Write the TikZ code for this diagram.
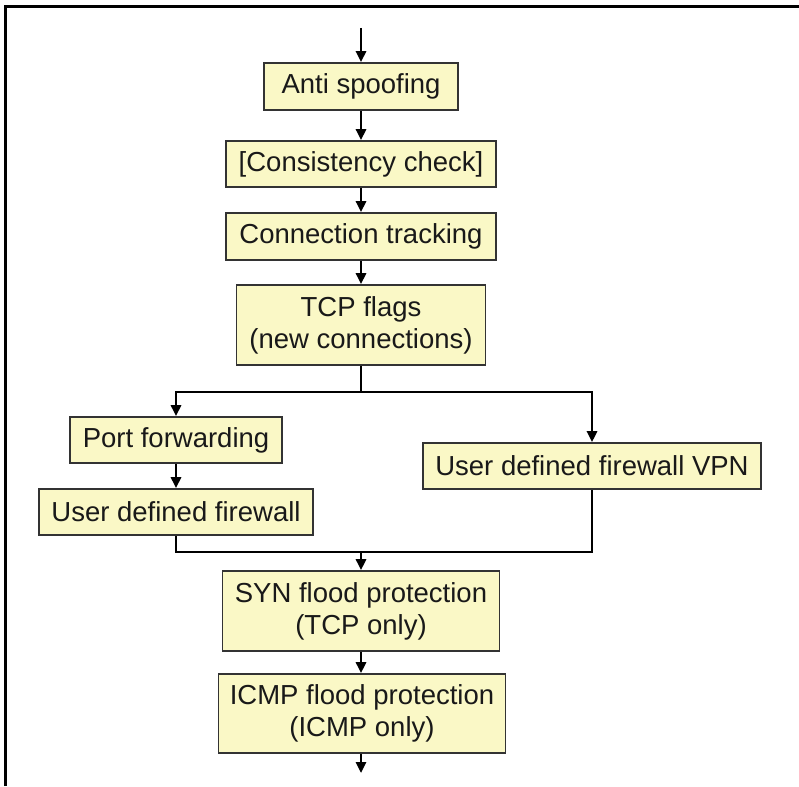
\documentclass[tikz,border=0pt]{standalone}
\usepackage{fontspec}
\setmainfont{Liberation Sans}
\usetikzlibrary{arrows.meta}
\definecolor{boxfill}{HTML}{FAF8C6}
\definecolor{boxline}{HTML}{333333}
\tikzset{
  stage/.style={draw=boxline, line width=1.6pt, fill=boxfill, inner sep=0pt,
    align=center, text=black!90, font=\fontsize{27.5}{32}\selectfont},
  flow/.style={line width=2.6pt, -{Triangle[length=11pt,width=10pt]}},
  link/.style={line width=2.6pt},
  frame/.style={line width=3pt}
}
\begin{document}
\begin{tikzpicture}[x=1pt,y=-1pt]
\useasboundingbox (0,0) rectangle (799,786);
\draw[frame] (5,786) -- (5,7) -- (799,7);
\node[stage, minimum width=194pt, minimum height=47pt] (anti) at (361,86.5) {Anti spoofing};
\node[stage, minimum width=270pt, minimum height=46pt] (cons) at (361,164) {[Consistency check]};
\node[stage, minimum width=270pt, minimum height=47pt] (conn) at (361,236.5) {Connection tracking};
\node[stage, minimum width=249pt, minimum height=80pt] (tcp) at (361,325) {TCP flags\\(new connections)};
\node[stage, minimum width=212pt, minimum height=46pt] (port) at (176,440) {Port forwarding};
\node[stage, minimum width=274pt, minimum height=46pt] (udf) at (176,512) {User defined firewall};
\node[stage, minimum width=338pt, minimum height=46pt] (vpn) at (592,466) {User defined firewall VPN};
\node[stage, minimum width=277pt, minimum height=80pt] (syn) at (361,611) {SYN flood protection\\(TCP only)};
\node[stage, minimum width=287pt, minimum height=79pt] (icmp) at (362,713.5) {ICMP flood protection\\(ICMP only)};
\coordinate (in) at (361,28);
\coordinate (out) at (361,773);
\coordinate (split) at (361,392);
\coordinate (merge) at (361,552);
\draw[flow] (in) -- (anti);
\draw[flow] (anti) -- (cons);
\draw[flow] (cons) -- (conn);
\draw[flow] (conn) -- (tcp);
\draw[link] (tcp.south) -- (split);
\draw[flow] (split) -| (port.north);
\draw[flow] (split) -| (vpn.north);
\draw[flow] (port) -- (udf);
\draw[link] (udf.south) |- (merge);
\draw[link] (vpn.south) |- (merge);
\draw[flow] (merge) -- (syn.north);
\draw[flow] (syn.south) -- (syn.south |- icmp.north);
\draw[flow] (icmp.south -| out) -- (out);
\end{tikzpicture}
\end{document}
